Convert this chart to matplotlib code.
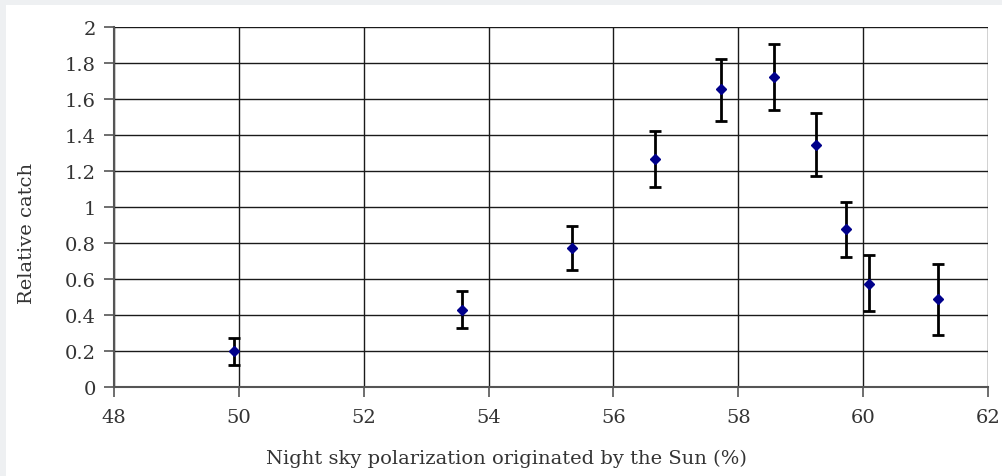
import numpy as np
import matplotlib.pyplot as plt
from matplotlib.patches import Rectangle

# polarization (%) vs relative catch
polarization = [49.92, 53.57, 55.33, 56.67, 57.73, 58.58, 59.24, 59.73, 60.10, 61.20]
catch = [0.20, 0.43, 0.775, 1.265, 1.655, 1.72, 1.345, 0.88, 0.575, 0.49]
err_up = [0.07, 0.105, 0.12, 0.155, 0.17, 0.185, 0.18, 0.15, 0.16, 0.195]
err_down = [0.075, 0.10, 0.125, 0.155, 0.175, 0.18, 0.175, 0.155, 0.155, 0.20]

xticks = np.arange(48, 63, 2)
yticks = [0, 0.2, 0.4, 0.6, 0.8, 1, 1.2, 1.4, 1.6, 1.8, 2]
ytick_labels = ['0', '0.2', '0.4', '0.6', '0.8', '1', '1.2', '1.4', '1.6', '1.8', '2']

plt.rcParams['font.family'] = ['DejaVu Serif']

fig = plt.figure(figsize=(10.03, 4.77), dpi=100, facecolor='#eef0f2')
fig.patches.append(Rectangle((6/1003, 0), 1, 1 - 6/477, transform=fig.transFigure,
                             facecolor='white', edgecolor='none', zorder=-10))
ax = fig.add_axes([114/1003, 1 - 388/477, 874/1003, 360/477])
ax.set_facecolor('white')

ax.errorbar(polarization, catch, yerr=[err_down, err_up], fmt='D', color='#00008b',
            markersize=4.8, ecolor='black', elinewidth=2, capsize=4, capthick=2, zorder=3)

ax.set_xlim(48, 62)
ax.set_ylim(0, 2)
ax.set_xticks(xticks)
ax.set_yticks(yticks)
ax.set_yticklabels(ytick_labels)
ax.grid(True, color='#1a1a1a', linewidth=1.0)
ax.set_axisbelow(True)
for s in ['top', 'right']:
    ax.spines[s].set_visible(False)
for s in ['left', 'bottom']:
    ax.spines[s].set_color('#555555')
    ax.spines[s].set_linewidth(1.5)
ax.tick_params(axis='both', direction='out', length=7, width=1.2, color='#555555',
               labelsize=14, labelcolor='#333333')
ax.tick_params(axis='y', pad=6)
ax.tick_params(axis='x', pad=8)

ax.set_xlabel("Night sky polarization originated by the Sun (%)", fontsize=14, color='#333333')
ax.set_ylabel("Relative catch", fontsize=14, color='#333333')
ax.xaxis.set_label_coords(0.4485, -0.172)
ax.yaxis.set_label_coords(-0.089, 0.43)

fig.savefig("out.png", dpi=100, facecolor=fig.get_facecolor())
